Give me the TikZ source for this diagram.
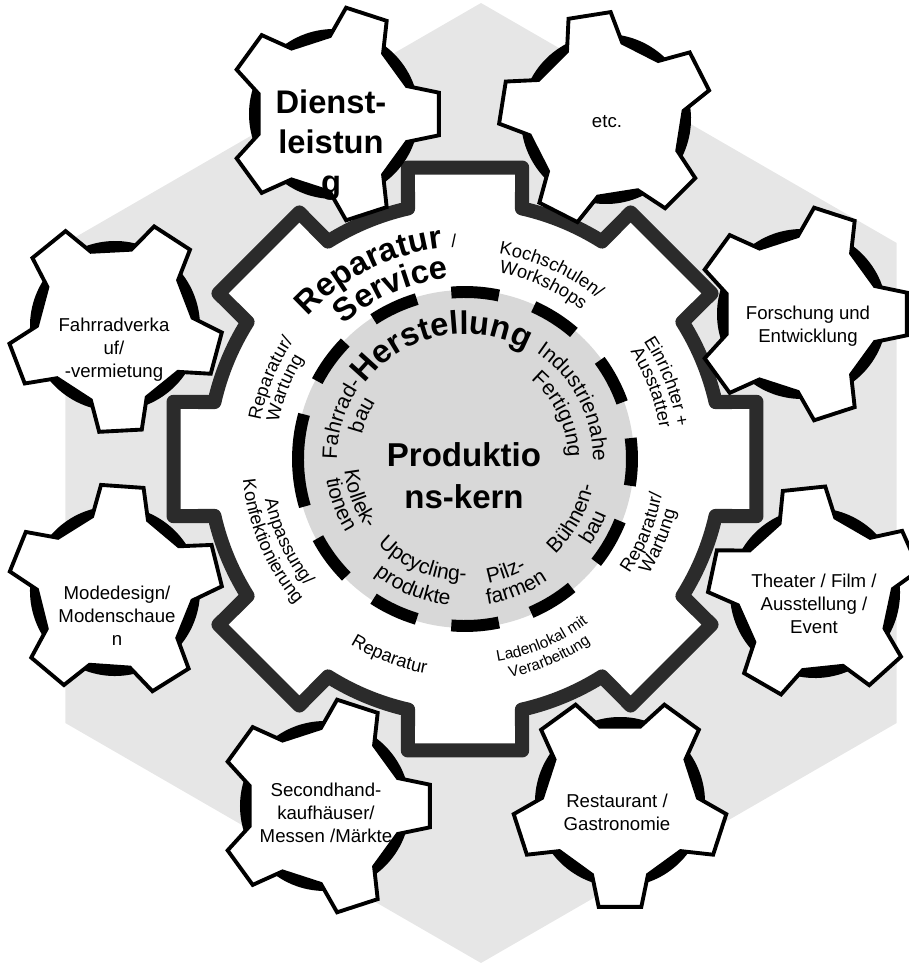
\documentclass[tikz,border=0pt]{standalone}
\usepackage{fontspec}
\setmainfont{Liberation Sans}
\usetikzlibrary{decorations.text}
\definecolor{hexgray}{HTML}{E6E6E6}
\definecolor{coregray}{HTML}{D8D8D8}
\definecolor{gearline}{HTML}{2B2B2B}
\newcommand{\ringfont}{\fontsize{5.2}{6}\selectfont}
\newcommand{\tinyring}{\fontsize{4.4}{5}\selectfont}
\newcommand{\corefont}{\fontsize{6}{7}\selectfont}
\newcommand{\bigbold}{\fontsize{9.3}{11.4}\selectfont\bfseries}

\begin{document}
\begin{tikzpicture}[
    curved/.style={decorate, decoration={text along path, text align=center, text={#1}}},
    smallgear/.style={draw=black, line width=1.1pt, fill=white},
    gearlabel/.style={align=center, font=\fontsize{5.3}{6.5}\selectfont},
    dashring/.style={black, line width=3.4pt}]
\useasboundingbox (-4.65,4.59) rectangle (4.43,-5.08);
% hexagon behind everything
\fill[hexgray, shift={(0.16,-0.24)}] (90:4.8) -- (150:4.8) -- (210:4.8) -- (270:4.8) -- (330:4.8) -- (30:4.8) -- cycle;
% big gear, 8 teeth
\draw[gearline, line width=4pt, line join=round, fill=white] (-12.8:2.57)
    \foreach \a in {0,45,...,315} { -- (\a-11.1:2.97) -- (\a+11.1:2.97) -- (\a+12.8:2.57)
    arc[start angle=\a+12.8, end angle=\a+32.2, radius=2.57] } -- cycle;
% core disk and its dashed rim
\fill[coregray] (0,0) circle (1.69);
\foreach \a in {-1,28,57.5,86.5,115,144,216.5,245,273.5,301.5,330}
    \draw[dashring] (\a-8.2:1.67) arc[start angle=\a-8.2, end angle=\a+8.2, radius=1.67];
\draw[dashring] (164.5:1.67) arc[start angle=164.5, end angle=196.5, radius=1.67];

% ring texts, tops outward
\path[curved={|\ringfont|Reparatur/}] (202.5:2.08) arc[start angle=202.5, end angle=112.5, radius=2.08];
\path[curved={|\ringfont|Wartung}] (203.5:1.90) arc[start angle=203.5, end angle=113.5, radius=1.90];
\path[curved={|\ringfont|Kochschulen/}] (110.5:2.08) arc[start angle=110.5, end angle=20.5, radius=2.08];
\path[curved={|\ringfont|Workshops}] (110.8:1.89) arc[start angle=110.8, end angle=20.8, radius=1.89];
\path[curved={|\ringfont|Einrichter +}] (66:2.14) arc[start angle=66, end angle=-24, radius=2.14];
\path[curved={|\ringfont|Ausstatter}] (66:1.97) arc[start angle=66, end angle=-24, radius=1.97];
\path[curved={|\bigbold|Reparatur |\ringfont|/}] (160:2.12) arc[start angle=160, end angle=70, radius=2.12];
\path[curved={|\bigbold|Service}] (158.5:1.81) arc[start angle=158.5, end angle=68.5, radius=1.81];
% ring texts, tops inward
\path[curved={|\ringfont|Reparatur/}] (292.6:2.00) arc[start angle=292.6, end angle=382.6, radius=2.00];
\path[curved={|\ringfont|Wartung}] (292:2.17) arc[start angle=292, end angle=382, radius=2.17];
\path[curved={|\tinyring|Ladenlokal mit}] (248:2.05) arc[start angle=248, end angle=338, radius=2.05];
\path[curved={|\tinyring|Verarbeitung}] (248:2.23) arc[start angle=248, end angle=338, radius=2.23];
\path[curved={|\ringfont|Reparatur}] (204:2.18) arc[start angle=204, end angle=294, radius=2.18];
\path[curved={|\ringfont|Anpassung/}] (160:2.04) arc[start angle=160, end angle=250, radius=2.04];
\path[curved={|\ringfont|Konfektionierung}] (158:2.23) arc[start angle=158, end angle=248, radius=2.23];

% core texts
\path[curved={|\bigbold|Herstellung}] (147:1.25) arc[start angle=147, end angle=57, radius=1.25];
\path[curved={|\corefont|Fahrrad-}] (207:1.28) arc[start angle=207, end angle=117, radius=1.28];
\path[curved={|\corefont|bau}] (202:1.06) arc[start angle=202, end angle=112, radius=1.06];
\path[curved={|\corefont|Industrienahe}] (72.5:1.28) arc[start angle=72.5, end angle=-17.5, radius=1.28];
\path[curved={|\corefont|Fertigung}] (70.5:1.03) arc[start angle=70.5, end angle=-19.5, radius=1.03];
\path[curved={|\corefont|Kollek-}] (155.5:1.21) arc[start angle=155.5, end angle=245.5, radius=1.21];
\path[curved={|\corefont|tionen}] (155:1.40) arc[start angle=155, end angle=245, radius=1.40];
\path[curved={|\corefont|Upcycling-}] (202.5:1.22) arc[start angle=202.5, end angle=292.5, radius=1.22];
\path[curved={|\corefont|produkte}] (203:1.47) arc[start angle=203, end angle=293, radius=1.47];
\path[curved={|\corefont|Pilz-}] (245:1.26) arc[start angle=245, end angle=335, radius=1.26];
\path[curved={|\corefont|farmen}] (246.5:1.47) arc[start angle=246.5, end angle=336.5, radius=1.47];
\path[curved={|\corefont|Bühnen-}] (286:1.31) arc[start angle=286, end angle=376, radius=1.31];
\path[curved={|\corefont|bau}] (287:1.52) arc[start angle=287, end angle=377, radius=1.52];
\node[align=center, font=\fontsize{9.4}{12}\selectfont\bfseries] (kern) at (-0.01,-0.17) {Produktio\\ns-kern};

% small gears: x / y / rotation
\foreach \x/\y/\rot in {-1.31/3.45/0, 1.41/3.40/27, -3.50/1.33/57, 3.37/1.45/0,
        -3.50/-1.32/14, 3.50/-1.34/24, -1.40/-3.47/0, 1.55/-3.43/54} {
    \begin{scope}[shift={(\x,\y)}, rotate=\rot]
        \fill[black] (0,0) circle (0.85);
        \draw[smallgear] (-21:0.78) \foreach \a in {0,72,...,288} {
            -- (\a-11.5:1.07) -- (\a+11.5:1.07) -- (\a+21:0.78) -- (\a+51:0.78) } -- cycle;
    \end{scope}
}
\node[gearlabel, font=\bigbold] (dienst) at (-1.34,3.14) {Dienst-\\leistun\\g};
\node[gearlabel] (etc) at (1.42,3.37) {etc.};
\node[gearlabel] (rad) at (-3.51,1.09) {Fahrradverka\\uf/\\-vermietung};
\node[gearlabel] (forschung) at (3.43,1.33) {Forschung und\\Entwicklung};
\node[gearlabel] (mode) at (-3.48,-1.57) {Modedesign/\\Modenschaue\\n};
\node[gearlabel] (theater) at (3.49,-1.45) {Theater / Film /\\Ausstellung /\\Event};
\node[gearlabel] (secondhand) at (-1.39,-3.54) {Secondhand-\\kaufhäuser/\\Messen /Märkte};
\node[gearlabel] (gastro) at (1.52,-3.53) {Restaurant /\\Gastronomie};
\end{tikzpicture}
\end{document}
